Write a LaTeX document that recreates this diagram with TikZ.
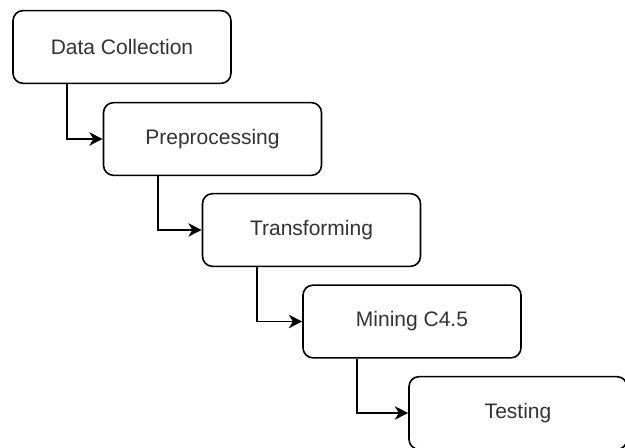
\documentclass[tikz,border=0pt]{standalone}
\usepackage{fontspec}
\setmainfont{Liberation Sans}
\usetikzlibrary{arrows.meta}
\definecolor{txt}{HTML}{333333}
\begin{document}
\begin{tikzpicture}[x=0.75pt,y=-0.75pt,
  stepbox/.style={draw=black, line width=1.2pt, rounded corners=7.5pt, fill=white,
    minimum width=163.5pt, minimum height=54.5pt, inner sep=0pt,
    font=\fontsize{15.75}{18}\selectfont, text=txt},
  flow/.style={draw=black, line width=1.2pt, -{Stealth[length=10pt,width=10pt,inset=3pt]}}]
\clip (0,0) rectangle (625,448);
\fill[white] (0,0) rectangle (625,448);
\node[stepbox] (b1) at (122,47) {Data Collection};
\node[stepbox] (b2) at (212.5,139) {Preprocessing};
\node[stepbox] (b3) at (311.5,230) {Transforming};
\node[stepbox] (b4) at (412,321.5) {Mining C4.5};
\node[stepbox] (b5) at (518,413) {Testing};
\draw[flow] ([xshift=41.25pt]b1.south west) |- (b2.west);
\draw[flow] ([xshift=41.25pt]b2.south west) |- (b3.west);
\draw[flow] ([xshift=41.25pt]b3.south west) |- (b4.west);
\draw[flow] ([xshift=41.25pt]b4.south west) |- (b5.west);
\end{tikzpicture}
\end{document}
